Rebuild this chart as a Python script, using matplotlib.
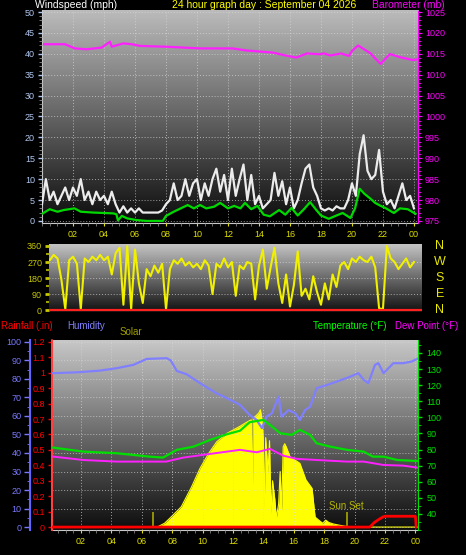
import numpy as np
import matplotlib.pyplot as plt
from matplotlib.colors import LinearSegmentedColormap
from matplotlib.ticker import MultipleLocator, FuncFormatter

plt.rcParams['font.family'] = ['Liberation Sans', 'DejaVu Sans']

# wind gust (mph), one reading every 15 minutes from 00:00
gust = [4, 10, 5, 7, 4, 6, 8, 5, 8, 6, 10, 5, 7, 4, 7, 5, 6, 4, 7, 4,
        2, 3.5, 2, 3, 2, 3, 2, 2, 2, 2, 2, 2.5,
        4, 5, 9, 5, 6, 10, 6, 9, 10, 5, 9, 6, 10, 12.5, 7, 11,
        5, 12.5, 6, 10, 13.5, 5, 11, 4, 6, 3, 4, 5, 11.5, 6, 9.5, 4,
        8, 3, 5, 9, 12.5, 13.5, 8, 6, 3, 2.5, 3, 2.5, 3.5, 3, 3, 5,
        9, 6, 16, 20.5, 12, 10, 11, 17, 7, 4, 5, 3, 6, 9, 5, 6, 3]
gust_hours = np.arange(len(gust)) * 0.25

# average wind (mph)
avg_hours = [0.0, 0.5, 1.0, 1.4, 2.1, 2.5, 3.3, 4.6, 4.8, 4.9, 5.15, 5.5, 6.1, 6.75,
             7.05, 7.8, 8.0, 8.5, 9.4, 9.8, 10.2, 10.6, 11.1, 11.5, 12.0, 12.4, 12.8,
             13.1, 13.5, 13.9, 14.3, 14.7, 15.3, 15.7, 16.1, 16.5, 16.9, 17.3, 17.7,
             18.0, 18.5, 19.0, 19.4, 19.9, 20.2, 20.5, 20.8, 21.2, 21.5, 21.8, 22.2,
             22.7, 23.1, 23.6, 24.1]
avg_wind = [1.7, 2.8, 2.2, 2.6, 3.0, 2.2, 2.0, 1.8, 1.6, 0.1, 1.2, 0.6, 0.2, 0.0,
            0.0, 0.0, 1.2, 2.2, 3.8, 3.0, 3.8, 3.0, 3.4, 4.3, 3.0, 3.6, 3.0,
            4.3, 2.8, 3.6, 1.5, 1.1, 2.6, 1.5, 3.1, 1.3, 2.8, 4.5, 2.6,
            1.3, 0.5, 1.3, 1.9, 0.7, 3.0, 7.7, 6.5, 5.3, 4.3, 3.7, 3.0,
            1.9, 3.0, 2.8, 1.7]

# barometer (mb)
baro_hours = [0.13, 1.48, 2.13, 2.88, 3.85, 4.39, 4.5, 5.25, 5.8, 6.32, 8.04, 10.2,
              12.3, 13.2, 14.9, 15.6, 16.4, 17.1, 17.9, 18.2, 18.6, 19.3, 19.8, 20.0,
              20.4, 21.2, 21.5, 21.85, 22.45, 23.1, 23.95, 24.2]
baro = [1017.3, 1017.3, 1016.3, 1016.1, 1016.5, 1017.9, 1016.7, 1017.5, 1017.3, 1016.9,
        1016.7, 1016.3, 1016.3, 1015.8, 1015.3, 1014.7, 1014.1, 1015.1, 1014.9, 1015.1,
        1014.6, 1015.1, 1014.5, 1015.7, 1017.0, 1015.1, 1013.9, 1012.6, 1014.95,
        1014.2, 1013.5, 1013.7]

# wind direction (degrees), every 15 minutes from 00:00
wind_dir = [290, 300, 280, 310, 290, 170, 5, 280, 300, 260, 5, 290, 270, 300, 280, 310,
            280, 300, 200, 320, 350, 30, 360, 5, 340, 150, 40, 230, 190, 250, 210, 260,
            5, 230, 280, 260, 290, 250, 270, 240, 260, 230, 280, 250, 90, 260, 240, 290,
            240, 270, 80, 250, 230, 270, 260, 60, 250, 340, 120, 240, 350, 150, 40, 200,
            20, 140, 330, 80, 120, 60, 190, 100, 30, 150, 60, 200, 130, 250, 270, 230,
            290, 270, 300, 280, 270, 300, 240, 10, 5, 360, 290, 270, 230, 260, 290, 240, 270]
dir_hours = np.arange(len(wind_dir)) * 0.25

# humidity (%)
hum_hours = [0.15, 1.8, 3.25, 4.35, 5.44, 6.32, 7.64, 7.9, 8.3, 8.95, 9.83, 10.9, 11.6,
             12.46, 13.1, 13.56, 13.9, 14.2, 14.55, 15.0, 15.2, 15.65, 16.1, 16.4, 16.74,
             17.07, 17.5, 18.2, 18.8, 19.7, 20.24, 20.6, 20.9, 21.34, 21.56, 21.9, 22.55,
             23.2, 23.75, 24.1]
humidity = [83.1, 83.6, 84.5, 85.8, 87.6, 90.8, 91.2, 90.0, 84.3, 82.5, 77.7, 72.3, 69.6,
            66.0, 60.5, 57.8, 53.4, 59.6, 61.4, 70.4, 59.6, 63.2, 61.4, 57.8, 63.2,
            65.0, 75.0, 76.8, 78.5, 81.2, 83.1, 79.5, 77.7, 87.6, 88.5, 83.1, 88.5,
            88.5, 89.4, 90.8]

# temperature (F)
temp_hours = [0.17, 2.15, 4.35, 6.5, 7.4, 8.3, 9.4, 10.5, 11.6, 12.46, 13.1, 14.0, 14.43,
              15.1, 15.86, 16.4, 17.07, 17.5, 18.4, 19.5, 20.6, 21.2, 21.9, 22.8, 24.1]
temp = [81.2, 78.7, 77.7, 75.6, 75.0, 79.8, 81.8, 86.0, 89.5, 91.7, 97.0, 98.4, 95.3,
        90.1, 89.1, 92.2, 89.1, 83.9, 81.8, 79.8, 78.7, 75.6, 75.6, 73.5, 72.9]

# dew point (F)
dew_hours = [0.17, 2.15, 4.35, 6.5, 7.6, 8.73, 10.5, 11.6, 12.46, 13.56, 14.43, 15.3,
             16.2, 17.5, 19.5, 20.6, 21.9, 23.2, 24.1]
dew = [75.6, 73.5, 72.5, 72.5, 72.5, 75.0, 77.3, 78.7, 79.8, 78.3, 80.4, 76.2,
       74.2, 73.5, 72.5, 72.5, 70.4, 70.0, 68.8]

# solar radiation (W/m2)
solar_hours = [0.0, 6.9, 7.07, 7.5, 7.85, 8.6, 9.28, 9.83, 10.4, 10.93, 11.6, 12.4, 13.0,
               13.2, 13.27, 13.33, 13.5, 13.7, 13.8, 13.9, 14.0, 14.05, 14.15, 14.3, 14.4,
               14.5, 14.6, 14.75, 14.85, 15.0, 15.1, 15.2, 15.3, 15.4, 15.5, 15.75,
               16.4, 16.8, 17.2, 17.4, 17.7, 17.9, 18.1, 18.3, 18.6, 19.0, 19.4,
               19.8, 24.2]
solar = [0, 0, 3, 25, 58, 132, 262, 381, 478, 553, 607, 650, 685,
         695, 170, 705, 720, 740, 760, 700, 560, 120, 580, 350, 560,
         90, 300, 180, 60, 150, 360, 110, 520, 540, 520, 456,
         413, 305, 251, 65, 40, 25, 45, 30, 20, 12, 5,
         0, 0]

# rainfall (in)
rain_hours = [0.0, 21.0, 21.3, 21.6, 21.85, 22.0, 24.0, 24.05]
rain = [0, 0, 0.03, 0.05, 0.065, 0.07, 0.07, 0]

sun_events = [6.75, 19.5]
hour_ticks = list(range(2, 25, 2))

hour_fmt = FuncFormatter(lambda v, p: '%02d' % (int(round(v)) % 24))
TICK = 6.5
TITLE = 7.5


def shade(ax, top, bottom):
    xl, yl = ax.get_xlim(), ax.get_ylim()
    cmap = LinearSegmentedColormap.from_list('bg', [bottom, top])
    grad = np.linspace(0, 1, 256).reshape(-1, 1)
    ax.imshow(grad, cmap=cmap, aspect='auto', origin='lower',
              extent=[xl[0], xl[1], yl[0], yl[1]], zorder=0)
    ax.set_xlim(xl)
    ax.set_ylim(yl)


fig = plt.figure(figsize=(4.66, 5.55), dpi=100, facecolor='black')

# ---------------- wind speed / barometer ----------------
ax1 = fig.add_axes([0.0901, 0.5982, 0.8069, 0.3838])
ax1.set_facecolor('black')
ax1.set_xlim(0, 24.26)
ax1.set_ylim(-0.5, 50.5)
shade(ax1, '#bcbcbc', '#0c0c0c')
ax1.set_xticks(hour_ticks)
ax1.xaxis.set_minor_locator(MultipleLocator(0.5))
ax1.xaxis.set_major_formatter(hour_fmt)
ax1.yaxis.set_major_locator(MultipleLocator(5))
ax1.yaxis.set_minor_locator(MultipleLocator(1))
ax1.grid(True, color='#d8d8d8', linestyle=(0, (1, 2)), linewidth=0.7, alpha=0.7)
ax1.set_axisbelow(False)
ax1.fill_between(avg_hours, avg_wind, 0, color='black', zorder=2)
ax1.plot(gust_hours, gust, color='#ececec', lw=1.6, zorder=3)
ax1.plot(avg_hours, avg_wind, color='#00d800', lw=1.6, zorder=4)
ax1.tick_params(axis='y', colors='#b0c8f0', labelsize=TICK, length=3, width=1, pad=2)
ax1.tick_params(axis='y', which='minor', colors='#909090', length=2)
ax1.tick_params(axis='x', colors='#dede00', labelsize=TICK, length=2, pad=3)
ax1.tick_params(axis='x', which='minor', colors='#808080', length=2)
for s in ax1.spines.values():
    s.set_color('#c8c8c8')
ax1.spines['top'].set_visible(False)
ax1.spines['right'].set_visible(False)

axb = ax1.twinx()
axb.set_ylim(974.5, 1025.5)
axb.plot(baro_hours, baro, color='#ff20ff', lw=1.6, zorder=5)
axb.yaxis.set_major_locator(MultipleLocator(5))
axb.yaxis.set_minor_locator(MultipleLocator(1))
axb.tick_params(axis='y', colors='#ff00ff', labelsize=TICK, length=3, pad=2)
axb.tick_params(axis='y', which='minor', colors='#ff00ff', length=2)
axb.spines['right'].set_color('#ff00ff')
axb.spines['right'].set_linestyle((0, (1, 1)))
for k in ['top', 'left', 'bottom']:
    axb.spines[k].set_visible(False)

ytop = 1 - 5 / 555
fig.text(35 / 466, ytop, 'Windspeed (mph)', color='white', fontsize=TITLE, va='center')
fig.text(172 / 466, ytop, '24 hour graph day : September 04 2026', color='#ffff00',
         fontsize=TITLE, va='center')
fig.text(372 / 466, ytop, 'Barometer (mb)', color='#ff00ff', fontsize=TITLE, va='center')

# ---------------- wind direction ----------------
ax2 = fig.add_axes([0.1052, 0.4378, 0.8004, 0.1225])
ax2.set_xlim(0.45, 24.52)
ax2.set_ylim(-11, 371)
shade(ax2, '#c4c4c4', '#101010')
for g in [90, 180, 270]:
    ax2.axhline(g, color='#d8d8d8', linestyle=(0, (1, 2)), lw=0.7, alpha=0.7, zorder=1)
ax2.plot(dir_hours, wind_dir, color='#f0f000', lw=1.5, zorder=3)
ax2.axhline(0, color='#ff2020', lw=1.6, zorder=4)
ax2.set_yticks([0, 90, 180, 270, 360])
ax2.yaxis.set_minor_locator(MultipleLocator(45))
ax2.set_xticks([])
ax2.tick_params(axis='y', colors='#c8c800', labelsize=TICK, length=3, width=2, pad=2)
ax2.tick_params(axis='y', which='minor', colors='#a0a000', length=2, width=1.5)
for s in ax2.spines.values():
    s.set_visible(False)
for lab, yy in zip(['N', 'W', 'S', 'E', 'N'], [246, 262, 278, 294, 310]):
    fig.text(440 / 466, 1 - yy / 555, lab, color='#e8e800', fontsize=9,
             ha='center', va='center')

# ---------------- bottom panel ----------------
ax3 = fig.add_axes([0.1116, 0.0450, 0.7854, 0.3423])
ax3.set_xlim(0.09, 24.17)
ax3.set_ylim(-19.2, 1212)
shade(ax3, '#c8c8c8', '#0c0c0c')
ax3.set_yticks(np.arange(0, 1201, 120))
ax3.set_xticks(hour_ticks)
ax3.xaxis.set_minor_locator(MultipleLocator(0.5))
ax3.xaxis.set_major_formatter(hour_fmt)
ax3.grid(True, color='#d8d8d8', linestyle=(0, (1, 2)), linewidth=0.7, alpha=0.7)
ax3.set_axisbelow(False)
ax3.fill_between(solar_hours, solar, 0, color='#ffff00', lw=0, zorder=2)
ax3.plot(solar_hours, solar, color='#ffff00', lw=0.8, zorder=2)
ax3.vlines(sun_events, 0, 97, color='#a8a800', lw=1.2, zorder=3)
ax3.text(19.44, 104, 'Sun Set', color='#b8b800', fontsize=7, ha='center', va='bottom',
         zorder=3)
ax3.tick_params(axis='y', left=False, labelleft=False)
ax3.tick_params(axis='x', colors='#dede00', labelsize=TICK, length=2, pad=3)
ax3.tick_params(axis='x', which='minor', colors='#808080', length=2)
for s in ax3.spines.values():
    s.set_visible(False)
ax3.spines['bottom'].set_visible(True)
ax3.spines['bottom'].set_color('#c8c8c8')

axr = ax3.twinx()
axr.set_ylim(-0.0192, 1.212)
axr.plot(rain_hours, rain, color='#ff0000', lw=2, zorder=4)
axr.yaxis.tick_left()
axr.set_yticks(np.arange(0, 1.21, 0.1))
axr.yaxis.set_major_formatter(FuncFormatter(lambda v, p: '%g' % round(v, 1)))
axr.tick_params(axis='y', colors='#ff0000', labelsize=TICK, length=3, width=1, pad=2)
for s in axr.spines.values():
    s.set_visible(False)
axr.spines['left'].set_visible(True)
axr.spines['left'].set_color('#ff4040')
axr.spines['left'].set_linestyle((0, (1, 1)))
axr.spines['left'].set_linewidth(1.5)

axh = ax3.twinx()
axh.set_ylim(-1.6, 101)
axh.plot(hum_hours, humidity, color='#8080ff', lw=1.6, zorder=5)
axh.yaxis.tick_left()
axh.spines['left'].set_position(('outward', 16))
axh.set_yticks(np.arange(0, 101, 10))
axh.yaxis.set_minor_locator(MultipleLocator(5))
axh.tick_params(axis='y', colors='#7878ff', labelsize=TICK, length=4, width=1, pad=2)
axh.tick_params(axis='y', which='minor', colors='#7878ff', length=2)
for s in axh.spines.values():
    s.set_visible(False)
axh.spines['left'].set_visible(True)
axh.spines['left'].set_color('#6464ff')
axh.spines['left'].set_linewidth(1.5)

axt = ax3.twinx()
axt.set_ylim(30, 148)
axt.plot(temp_hours, temp, color='#00e000', lw=1.6, zorder=6)
axt.plot(dew_hours, dew, color='#ff20ff', lw=1.4, zorder=6)
axt.set_yticks(np.arange(40, 141, 10))
axt.yaxis.set_minor_locator(MultipleLocator(5))
axt.tick_params(axis='y', colors='#00e000', labelsize=TICK, length=3, width=1, pad=3)
axt.tick_params(axis='y', which='minor', colors='#00e000', length=2)
for s in axt.spines.values():
    s.set_visible(False)
axt.spines['right'].set_visible(True)
axt.spines['right'].set_color('#00e000')
axt.spines['right'].set_linestyle((0, (1, 1)))

yb = 1 - 326 / 555
fig.text(1 / 466, yb, 'Rainfall (.in)', color='#ff0000', fontsize=7, va='center')
fig.text(67 / 466, yb, 'Humidity', color='#8080ff', fontsize=7, va='center')
fig.text(120 / 466, 1 - 332 / 555, 'Solar', color='#a0a000', fontsize=7, va='center')
fig.text(313 / 466, yb, 'Temperature (°F)', color='#00ff00', fontsize=7, va='center')
fig.text(395 / 466, yb, 'Dew Point (°F)', color='#ff00ff', fontsize=7, va='center')

fig.savefig('out.png', dpi=100, facecolor='black')
